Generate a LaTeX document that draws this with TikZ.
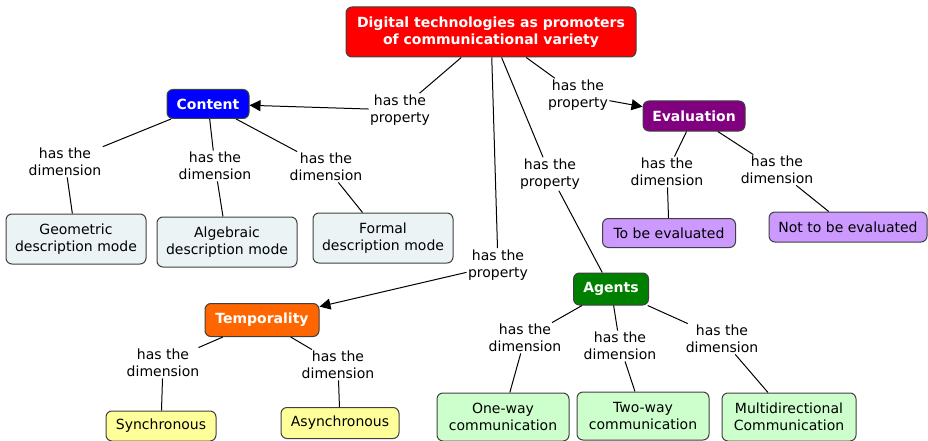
\documentclass[tikz,border=0pt]{standalone}
\usepackage{fontspec}
\setmainfont{DejaVu Sans}
\usetikzlibrary{arrows.meta}
\definecolor{rootred}{HTML}{FF0000}
\definecolor{contentblue}{HTML}{0000FF}
\definecolor{evalpurple}{HTML}{800080}
\definecolor{temporange}{HTML}{FF6600}
\definecolor{agentgreen}{HTML}{008000}
\definecolor{modefill}{HTML}{EBF3F5}
\definecolor{evalfill}{HTML}{CC99FF}
\definecolor{tempfill}{HTML}{FFFF99}
\definecolor{agentfill}{HTML}{CCFFCC}

\begin{document}
\begin{tikzpicture}[x=1pt,y=-1pt,
  concept/.style={rectangle,draw=black!75,rounded corners=6pt,align=center,font=\fontsize{14}{17}\selectfont,inner sep=2pt},
  topic/.style={concept,text=white,font=\bfseries\fontsize{14}{17}\selectfont},
  link/.style={align=center,font=\fontsize{14}{17}\selectfont,inner sep=1pt},
  prop/.style={-{Triangle[length=11pt,width=11pt]}},
  line width=1pt]
\useasboundingbox (0,0) rectangle (928,441);

\node [topic,fill=rootred,minimum width=290pt,minimum height=50pt] (root) at (491,32) {Digital technologies as promoters\\of communicational variety};

\node [topic,fill=contentblue,minimum width=82pt,minimum height=29pt] (content) at (208,104) {Content};
\node [topic,fill=evalpurple,minimum width=102pt,minimum height=30pt] (evaluation) at (694,116) {Evaluation};
\node [topic,fill=temporange,minimum width=114pt,minimum height=33pt] (temporality) at (262,320) {Temporality};
\node [topic,fill=agentgreen,minimum width=75pt,minimum height=32pt] (agents) at (611,289) {Agents};

\node [concept,fill=modefill,minimum width=140pt,minimum height=50pt] (geometric) at (76,239) {Geometric\\description mode};
\node [concept,fill=modefill,minimum width=140pt,minimum height=50pt] (algebraic) at (227,242) {Algebraic\\description mode};
\node [concept,fill=modefill,minimum width=140pt,minimum height=50pt] (formal) at (383,238) {Formal\\description mode};

\node [concept,fill=evalfill,minimum width=133pt,minimum height=29pt] (tobe) at (669,233) {To be evaluated};
\node [concept,fill=evalfill,minimum width=158pt,minimum height=30pt] (nottobe) at (848,227) {Not to be evaluated};

\node [concept,fill=tempfill,minimum width=110pt,minimum height=30pt] (sync) at (161,426) {Synchronous};
\node [concept,fill=tempfill,minimum width=118pt,minimum height=31pt] (async) at (340,423) {Asynchronous};

\node [concept,fill=agentfill,minimum width=132pt,minimum height=48pt] (oneway) at (503,417) {One-way\\communication};
\node [concept,fill=agentfill,minimum width=132pt,minimum height=48pt] (twoway) at (643,416) {Two-way\\communication};
\node [concept,fill=agentfill,minimum width=134pt,minimum height=48pt] (multi) at (789,417) {Multidirectional\\Communication};

\node [link] (pcontent) at (400,110) {has the\\property};
\node [link] (peval) at (578,95) {has the\\property};
\node [link] (pagents) at (550,174) {has the\\property};
\node [link] (ptemp) at (498,265) {has the\\property};

\node [link] (dgeo) at (65,162) {has the\\dimension};
\node [link] (dalg) at (215,166) {has the\\dimension};
\node [link] (dform) at (326,167) {has the\\dimension};
\node [link] (dtobe) at (667,172) {has the\\dimension};
\node [link] (dnot) at (777,170) {has the\\dimension};
\node [link] (dsync) at (163,363) {has the\\dimension};
\node [link] (dasync) at (338,365) {has the\\dimension};
\node [link] (done) at (525,338) {has the\\dimension};
\node [link] (dtwo) at (620,346) {has the\\dimension};
\node [link] (dmulti) at (722,339) {has the\\dimension};

\draw (root) -- (pcontent);
\draw [prop] (pcontent) -- (content);
\draw (root) -- (peval);
\draw [prop] (peval) -- (evaluation);
\draw (root) -- (pagents) -- (agents);
\draw (root) -- (ptemp);
\draw [prop] (ptemp) -- (temporality);

\draw (content) -- (dgeo) -- (geometric);
\draw (content) -- (dalg) -- (algebraic);
\draw (content) -- (dform) -- (formal);
\draw (evaluation) -- (dtobe) -- (tobe);
\draw (evaluation) -- (dnot) -- (nottobe);
\draw (temporality) -- (dsync) -- (sync);
\draw (temporality) -- (dasync) -- (async);
\draw (agents) -- (done) -- (oneway);
\draw (agents) -- (dtwo) -- (twoway);
\draw (agents) -- (dmulti) -- (multi);
\end{tikzpicture}
\end{document}
